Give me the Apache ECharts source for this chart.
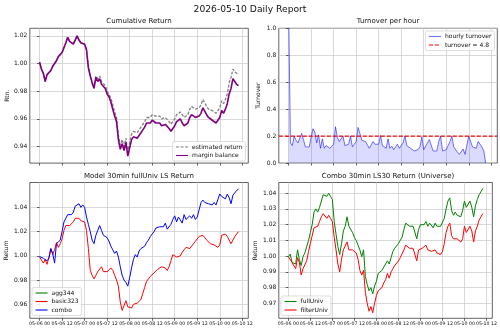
<!DOCTYPE html>
<html>
<head>
<meta charset="utf-8">
<script src="https://cdn.jsdelivr.net/npm/echarts@6/dist/echarts.min.js"></script>
<style>
html, body { margin: 0; padding: 0; background: #fff; }
#main { width: 500px; height: 332px; }
</style>
</head>
<body>
<div id="main"></div>
<script>
// hours since 05-06 00:00, one sample per hour
var xTickHours = [0, 12, 24, 36, 48, 60, 72, 84, 96, 108];
var xTickLabels = ['05-06 00', '05-06 12', '05-07 00', '05-07 12', '05-08 00', '05-08 12', '05-09 00', '05-09 12', '05-10 00', '05-10 12'];

// Cumulative Return
var estReturn = [
	1.001, 0.996, 0.993, 0.987, 0.992, 0.993, 0.995, 0.998, 0.999, 1.002,
	1.005, 1.004, 1.008, 1.009, 1.015, 1.019, 1.016, 1.017, 1.014, 1.015,
	1.020, 1.017, 1.015, 1.016, 1.014, 1.010, 0.998, 0.992, 0.987, 0.983,
	0.991, 0.989, 0.991, 0.987, 0.988, 0.984, 0.980, 0.979, 0.975, 0.970,
	0.965, 0.961, 0.948, 0.941, 0.945, 0.940, 0.946, 0.936, 0.943, 0.949,
	0.951, 0.950, 0.950, 0.952, 0.954, 0.956, 0.958, 0.961, 0.960, 0.961,
	0.963, 0.963, 0.962, 0.961, 0.962, 0.960, 0.959, 0.961, 0.962, 0.958,
	0.956, 0.957, 0.960, 0.963, 0.964, 0.965, 0.963, 0.961, 0.960, 0.963,
	0.967, 0.969, 0.970, 0.967, 0.966, 0.968, 0.970, 0.974, 0.973, 0.969,
	0.967, 0.967, 0.966, 0.965, 0.964, 0.965, 0.968, 0.973, 0.971, 0.974,
	0.978, 0.986, 0.990, 0.996, 0.994, 0.993, 0.992
];
var marginBalance = [
	1.001, 0.996, 0.993, 0.987, 0.992, 0.993, 0.995, 0.998, 0.999, 1.002,
	1.005, 1.004, 1.008, 1.009, 1.015, 1.019, 1.016, 1.017, 1.014, 1.015,
	1.020, 1.017, 1.015, 1.016, 1.014, 1.010, 0.997, 0.991, 0.986, 0.982,
	0.990, 0.987, 0.989, 0.985, 0.986, 0.982, 0.978, 0.976, 0.972, 0.967,
	0.962, 0.958, 0.945, 0.938, 0.942, 0.937, 0.943, 0.933, 0.939, 0.945,
	0.947, 0.946, 0.946, 0.948, 0.950, 0.952, 0.954, 0.957, 0.956, 0.957,
	0.959, 0.958, 0.957, 0.956, 0.957, 0.955, 0.954, 0.956, 0.957, 0.953,
	0.951, 0.952, 0.955, 0.958, 0.959, 0.960, 0.957, 0.955, 0.954, 0.957,
	0.961, 0.963, 0.964, 0.961, 0.960, 0.962, 0.964, 0.968, 0.967, 0.963,
	0.961, 0.960, 0.959, 0.958, 0.957, 0.958, 0.961, 0.966, 0.964, 0.967,
	0.971, 0.978, 0.982, 0.989, 0.987, 0.985, 0.984
];

// Turnover per hour (first hour goes off the top)
var hourlyTurnover = [
	1.2, 0.15, 0.13, 0.20, 0.17, 0.15, 0.15, 0.22, 0.17, 0.12,
	0.11, 0.12, 0.19, 0.255, 0.23, 0.15, 0.21, 0.11, 0.18, 0.11,
	0.13, 0.13, 0.11, 0.12, 0.14, 0.27, 0.19, 0.16, 0.15, 0.20,
	0.13, 0.14, 0.14, 0.20, 0.12, 0.11, 0.16, 0.265, 0.22, 0.17,
	0.17, 0.16, 0.15, 0.11, 0.10, 0.16, 0.14, 0.15, 0.14, 0.205,
	0.13, 0.12, 0.11, 0.18, 0.11, 0.125, 0.10, 0.12, 0.14, 0.11,
	0.105, 0.15, 0.20, 0.13, 0.13, 0.11, 0.10, 0.09, 0.09, 0.10,
	0.12, 0.195, 0.10, 0.105, 0.15, 0.175, 0.17, 0.09, 0.09, 0.09,
	0.16, 0.20, 0.09, 0.09, 0.10, 0.13, 0.16, 0.20, 0.12, 0.11,
	0.08, 0.065, 0.07, 0.105, 0.065, 0.075, 0.20, 0.20, 0.12, 0.115,
	0.11, 0.16, 0.15, 0.12, 0.09, 0.0
];
var turnoverLimit = 0.2;

// Model 30min fullUniv LS Return
var agg344 = [];
var basic323 = [
	0.999, 0.998, 0.994, 0.997, 0.993, 0.999, 1.006, 1.001, 1.005, 1.011,
	1.007, 1.010, 1.014, 1.021, 1.025, 1.025, 1.025, 1.026, 1.028, 1.031,
	1.030, 1.031, 1.029, 1.030, 1.028, 1.021, 1.006, 0.988, 0.984, 0.981,
	0.984, 0.987, 0.988, 0.991, 0.987, 0.988, 0.987, 0.988, 0.990, 0.988,
	0.984, 0.980, 0.975, 0.962, 0.955, 0.956, 0.963, 0.958, 0.959, 0.957,
	0.960, 0.961, 0.961, 0.960, 0.964, 0.969, 0.974, 0.979, 0.981, 0.983,
	0.984, 0.986, 0.987, 0.989, 0.990, 0.991, 0.991, 0.990, 0.988, 0.991,
	0.996, 1.001, 1.001, 0.999, 0.998, 1.000, 1.003, 1.005, 1.007, 1.008,
	1.006, 1.008, 1.010, 1.012, 1.013, 1.016, 1.017, 1.017, 1.015, 1.013,
	1.012, 1.010, 1.011, 1.009, 1.008, 1.007, 1.009, 1.017, 1.016, 1.018,
	1.016, 1.017, 1.010, 1.013, 1.016, 1.017, 1.020
];
var combo = [
	0.9995, 1.001, 0.998, 0.999, 0.996, 0.998, 1.006, 1.002, 0.994, 1.010,
	1.009, 1.013, 1.020, 1.028, 1.031, 1.034, 1.035, 1.034, 1.036, 1.041,
	1.041, 1.043, 1.040, 1.042, 1.040, 1.032, 1.026, 1.020, 1.013, 1.010,
	1.017, 1.021, 1.025, 1.021, 1.017, 1.016, 1.015, 1.012, 1.008, 1.005,
	1.002, 1.004, 0.999, 0.991, 0.984, 0.980, 0.978, 0.975, 0.982, 0.990,
	0.997, 1.001, 0.999, 1.004, 1.006, 1.007, 1.008, 1.011, 1.013, 1.016,
	1.016, 1.020, 1.023, 1.024, 1.024, 1.023, 1.024, 1.027, 1.022, 1.021,
	1.026, 1.030, 1.033, 1.028, 1.032, 1.031, 1.027, 1.034, 1.030, 1.031,
	1.033, 1.031, 1.034, 1.030, 1.032, 1.038, 1.044, 1.046, 1.044, 1.044,
	1.043, 1.044, 1.042, 1.044, 1.042, 1.043, 1.051, 1.049, 1.049, 1.047,
	1.051, 1.048, 1.043, 1.050, 1.051, 1.054, 1.055
];

// Combo 30min LS30 Return (Universe)
var fullUniv = [
	0.9996, 1.0013, 0.996, 0.996, 0.995, 1.004, 0.998, 0.994, 0.9996, 1.002,
	1.006, 1.010, 1.015, 1.020, 1.028, 1.030, 1.028, 1.031, 1.035, 1.039,
	1.039, 1.038, 1.040, 1.038, 1.036, 1.022, 1.014, 1.006, 1.001, 1.008,
	1.016, 1.019, 1.025, 1.019, 1.018, 1.015, 1.012, 1.010, 1.007, 1.004,
	0.9996, 1.004, 0.987, 0.982, 0.978, 0.980, 0.976, 0.981, 0.984, 0.989,
	0.990, 0.991, 0.993, 0.994, 0.997, 0.995, 0.999, 1.003, 1.005, 1.006,
	1.008, 1.010, 1.012, 1.017, 1.021, 1.020, 1.019, 1.018, 1.019, 1.018,
	1.011, 1.017, 1.020, 1.021, 1.020, 1.022, 1.019, 1.021, 1.020, 1.018,
	1.021, 1.019, 1.019, 1.019, 1.020, 1.024, 1.030, 1.035, 1.037, 1.029,
	1.026, 1.028, 1.026, 1.027, 1.025, 1.029, 1.035, 1.031, 1.032, 1.035,
	1.031, 1.025, 1.032, 1.036, 1.039, 1.041, 1.043
];
var filterUniv = [
	0.9996, 0.9985, 0.996, 0.995, 0.992, 0.999, 0.996, 0.988, 0.992, 0.993,
	0.997, 1.003, 1.008, 1.013, 1.018, 1.017, 1.019, 1.022, 1.025, 1.027,
	1.026, 1.024, 1.026, 1.024, 1.022, 1.012, 1.004, 0.995, 0.990, 0.998,
	1.004, 1.005, 1.009, 1.004, 1.005, 1.004, 1.004, 1.002, 0.998, 0.991,
	0.988, 0.991, 0.977, 0.970, 0.965, 0.968, 0.964, 0.970, 0.975, 0.978,
	0.979, 0.980, 0.983, 0.985, 0.989, 0.986, 0.990, 0.992, 0.994, 0.995,
	0.997, 0.999, 1.000, 1.004, 1.007, 1.006, 1.005, 1.004, 1.005, 1.004,
	0.997, 1.004, 1.005, 1.005, 1.006, 1.007, 1.004, 1.005, 1.003, 1.004,
	1.004, 1.002, 1.003, 1.001, 1.003, 1.008, 1.015, 1.019, 1.021, 1.013,
	1.011, 1.010, 1.011, 1.010, 1.009, 1.011, 1.019, 1.015, 1.015, 1.019,
	1.016, 1.009, 1.016, 1.019, 1.023, 1.025, 1.027
];

var yTicksCum = [0.94, 0.96, 0.98, 1.00, 1.02];
var yTicksTurn = [0, 0.2, 0.4, 0.6, 0.8, 1.0];
var yTicksModel = [0.96, 0.98, 1.00, 1.02, 1.04];
var yTicksUniv = [0.97, 0.98, 0.99, 1.00, 1.01, 1.02, 1.03, 1.04];

var X_MIN = -5.2, X_MAX = 111.2;
var FONT = 'DejaVu Sans';
var GRID_COLOR = '#c8c8c8';

function toPairs(arr) {
	return arr.map((v, i) => [i, v]);
}

function makeX(gridIndex, showLabels) {
	return {
		type: 'value', gridIndex: gridIndex, min: X_MIN, max: X_MAX,
		axisLine: { show: false },
		axisTick: { show: true, inside: false, length: 2.5, customValues: xTickHours,
			lineStyle: { color: '#222', width: 0.7 } },
		axisLabel: { show: showLabels, customValues: xTickHours, fontSize: 4.7, margin: 3,
			color: '#111', fontFamily: FONT, hideOverlap: false,
			formatter: v => xTickLabels[Math.round(v / 12)] },
		splitLine: { show: true, lineStyle: { color: GRID_COLOR, width: 0.7 } }
	};
}

function makeY(gridIndex, min, max, ticks, digits, name, gap) {
	return {
		type: 'value', gridIndex: gridIndex, min: min, max: max,
		name: name, nameLocation: 'middle', nameGap: gap, nameRotate: 90,
		nameTextStyle: { fontSize: 6, fontFamily: FONT, color: '#111' },
		axisLine: { show: false },
		axisTick: { show: true, length: 2.5, customValues: ticks,
			lineStyle: { color: '#222', width: 0.7 } },
		axisLabel: { customValues: ticks, fontSize: 6, margin: 2.5, color: '#111', fontFamily: FONT,
			formatter: v => v.toFixed(digits) },
		splitLine: { show: true, lineStyle: { color: GRID_COLOR, width: 0.7 } }
	};
}

function makeLegend(names, pos) {
	return Object.assign({
		data: names, orient: 'vertical', padding: [2.5, 3, 2.5, 3], itemGap: 2.5,
		itemWidth: 12, itemHeight: 6, selectedMode: false,
		itemStyle: { opacity: 0 },
		lineStyle: { width: 1.1 },
		backgroundColor: 'rgba(255,255,255,0.85)', borderColor: '#d0d0d0', borderWidth: 0.7, borderRadius: 2,
		textStyle: { fontSize: 6, fontFamily: FONT, color: '#111', padding: [0, 0, 0, -1] }
	}, pos);
}

function subTitle(text, cx, top) {
	return { text: text, left: cx, top: top, textAlign: 'center', padding: 0,
		textStyle: { fontSize: 7, fontWeight: 'normal', fontFamily: FONT, color: '#111' } };
}

function lineSeries(name, xi, data, color, width, dash) {
	return {
		name: name, type: 'line', xAxisIndex: xi, yAxisIndex: xi, data: toPairs(data),
		symbol: 'none', animation: false, color: color,
		lineStyle: { color: color, width: width, type: dash || 'solid' }
	};
}

var turnoverSeries = lineSeries('hourly turnover', 1, hourlyTurnover, 'rgba(0,0,255,0.55)', 1);
turnoverSeries.areaStyle = { color: 'rgba(0,0,255,0.2)' };

var limitSeries = {
	name: 'turnover = 4.8', type: 'line', xAxisIndex: 1, yAxisIndex: 1,
	data: [[X_MIN, turnoverLimit], [X_MAX, turnoverLimit]],
	symbol: 'none', color: '#ff0000', lineStyle: { color: '#ff0000', width: 1.1, type: [4, 2] }
};

var option = {
	animation: false,
	textStyle: { fontFamily: FONT },
	title: [
		{ text: '2026-05-10 Daily Report', left: 250, top: 5, textAlign: 'center', padding: 0,
			textStyle: { fontSize: 9.2, fontWeight: 'normal', fontFamily: FONT, color: '#111' } },
		subTitle('Cumulative Return', 139, 18),
		subTitle('Turnover per hour', 388, 18),
		subTitle('Model 30min fullUniv LS Return', 139, 172.5),
		subTitle('Combo 30min LS30 Return (Universe)', 388, 172.5)
	],
	grid: [
		{ left: 29.8, top: 28.3, width: 218.5, height: 134.8, show: true, borderColor: '#222', borderWidth: 0.7 },
		{ left: 278.8, top: 28.3, width: 218.5, height: 134.8, show: true, borderColor: '#222', borderWidth: 0.7 },
		{ left: 29.8, top: 182.5, width: 218.5, height: 135.8, show: true, borderColor: '#222', borderWidth: 0.7 },
		{ left: 278.8, top: 182.5, width: 218.5, height: 135.8, show: true, borderColor: '#222', borderWidth: 0.7 }
	],
	xAxis: [makeX(0, false), makeX(1, false), makeX(2, true), makeX(3, true)],
	yAxis: [
		makeY(0, 0.928, 1.0255, yTicksCum, 2, 'Rtn.', 19),
		makeY(1, 0, 1, yTicksTurn, 1, 'Turnover', 17),
		makeY(2, 0.9485, 1.0605, yTicksModel, 2, 'Return', 20),
		makeY(3, 0.9605, 1.0468, yTicksUniv, 2, 'Return', 20)
	],
	legend: [
		makeLegend(['estimated return', 'margin balance'], { right: 254.5, bottom: 171 }),
		makeLegend(['hourly turnover', 'turnover = 4.8'], { right: 5.5, top: 31 }),
		makeLegend(['agg344', 'basic323', 'combo'], { left: 32, bottom: 16.5 }),
		makeLegend(['fullUniv', 'filterUniv'], { left: 281, bottom: 16.5 })
	],
	series: [
		lineSeries('estimated return', 0, estReturn, '#808080', 1.3, [3, 1.5]),
		lineSeries('margin balance', 0, marginBalance, '#800080', 1.6),
		turnoverSeries,
		limitSeries,
		lineSeries('agg344', 2, agg344, '#008000', 1),
		lineSeries('basic323', 2, basic323, '#ff0000', 1),
		lineSeries('combo', 2, combo, '#0000ff', 1),
		lineSeries('fullUniv', 3, fullUniv, '#008000', 1),
		lineSeries('filterUniv', 3, filterUniv, '#ff0000', 1)
	]
};

var chart = echarts.init(document.getElementById('main'), null, { renderer: 'canvas' });
chart.setOption(option);
</script>
</body>
</html>
